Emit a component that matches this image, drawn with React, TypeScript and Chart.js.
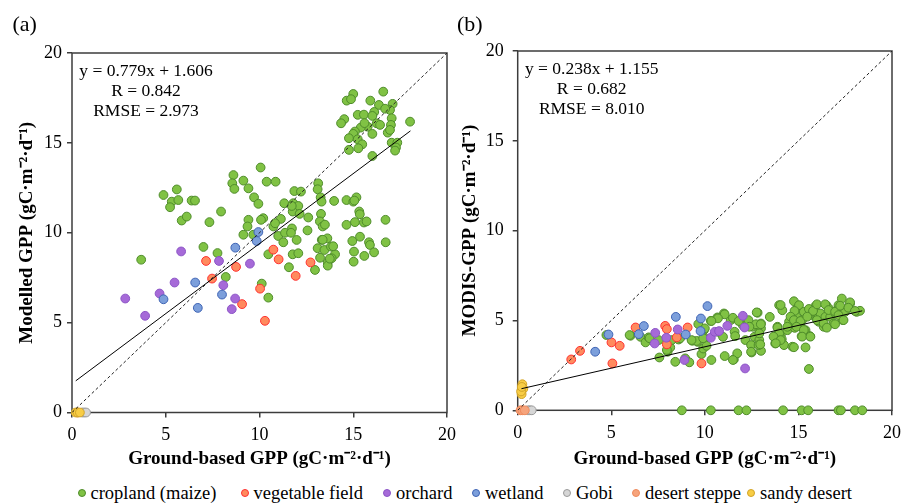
import React, { useEffect, useRef } from 'react';
import { Chart, registerables } from 'chart.js';

Chart.register(...registerables);

type Pt = [number, number];

const FONT = '"Liberation Serif", "Times New Roman", serif';

const SERIES_NAMES = ['cropland (maize)', 'vegetable field', 'orchard', 'wetland', 'Gobi', 'desert steppe', 'sandy desert'];
const SERIES_FILL = ['#80c244', '#ff8a5e', '#a66ad8', '#7c9fdb', '#d6d6d6', '#f6a47c', '#f8cd45'];
const SERIES_EDGE = ['#4f8c2b', '#ff3030', '#8c55c6', '#3e63b4', '#9a9a9a', '#ee8a5c', '#d2a428'];

const AXIS_MIN = 0;
const AXIS_MAX = 20;
const AXIS_STEP = 5;

// ---------- Panel (a): Modelled GPP vs ground-based GPP ----------
const modelCropland: Pt[] = [
  [15.0, 17.72], [14.65, 17.35], [14.88, 17.43], [16.6, 17.85], [15.91, 17.35], [16.37, 17.11], [17.1, 17.17],
  [16.96, 16.83], [16.12, 16.72], [15.24, 16.56], [15.57, 16.57], [16.02, 16.5], [14.52, 16.32], [14.35, 16.09],
  [17.05, 16.37], [17.01, 16.0], [18.03, 16.18], [16.25, 16.09], [16.43, 16.0], [15.77, 15.9], [15.4, 15.85],
  [15.09, 15.63], [15.0, 15.5], [16.84, 15.57], [16.96, 15.72], [16.02, 15.5], [14.77, 15.26], [15.24, 15.2],
  [15.48, 14.92], [15.27, 14.7], [14.77, 14.61], [17.05, 15.01], [17.35, 15.01], [17.28, 14.74], [17.23, 14.57],
  [16.02, 14.27], [15.6, 16.1], [16.7, 16.9],
  [4.88, 12.1], [5.59, 12.41], [5.32, 11.73], [5.67, 11.82], [5.23, 11.42], [5.85, 10.68], [6.12, 10.9],
  [6.38, 11.79], [6.56, 11.79], [7.33, 10.59], [7.95, 11.18], [8.61, 13.21], [8.55, 12.75], [8.66, 12.44],
  [9.14, 12.9], [9.41, 12.47], [9.71, 11.97], [9.94, 11.61], [10.06, 13.63], [10.38, 12.84], [10.86, 12.84],
  [9.41, 10.72], [9.36, 10.35], [10.2, 10.81], [10.08, 10.72], [10.74, 10.35], [11.14, 10.77], [11.32, 11.64],
  [11.86, 12.32], [12.21, 12.29], [11.8, 11.64], [12.07, 11.49], [11.77, 11.18], [12.14, 11.05], [12.6, 10.85],
  [13.13, 12.75], [13.1, 12.42], [13.26, 11.97], [13.31, 11.73], [13.98, 11.77], [13.28, 11.05], [13.22, 10.63],
  [13.37, 10.35], [12.56, 10.13], [11.73, 10.24], [14.64, 11.82], [15.0, 11.73], [15.17, 11.97], [15.32, 11.18],
  [15.35, 11.03], [14.64, 10.44], [15.09, 10.59], [15.57, 10.57], [15.71, 10.63], [16.72, 10.72], [9.14, 9.89],
  [9.67, 9.89], [11.72, 11.49], [15.06, 11.79],
  [13.49, 10.45], [10.83, 10.53], [11.0, 9.82], [11.36, 10.0], [11.68, 10.0], [11.27, 9.47], [11.98, 9.6],
  [13.32, 9.6], [13.62, 9.69], [13.1, 9.14], [13.46, 9.04], [13.81, 9.23], [14.03, 8.8], [13.85, 8.58],
  [13.23, 8.61], [13.64, 8.34], [13.64, 8.17], [12.96, 7.93], [11.57, 8.08], [11.77, 8.8], [12.07, 8.86],
  [10.47, 8.8], [14.95, 9.54], [15.36, 9.78], [15.84, 9.47], [15.89, 9.32], [16.73, 9.47], [15.04, 8.95],
  [15.59, 8.71], [16.11, 8.91], [15.02, 8.39], [10.47, 6.39], [3.69, 8.5], [7.01, 9.21], [7.76, 8.87],
  [8.2, 7.54], [10.12, 7.17], [13.75, 8.56], [13.93, 9.25], [13.37, 9.61],
];
const modelVegetable: Pt[] = [
  [7.15, 8.43], [7.47, 7.45], [8.75, 8.1], [9.07, 6.03], [10.03, 6.89], [10.29, 5.1], [10.74, 9.06],
  [11.02, 8.52], [11.93, 7.6], [12.72, 8.35],
];
const modelOrchard: Pt[] = [
  [2.84, 6.34], [3.9, 5.38], [4.67, 6.62], [5.47, 7.23], [5.82, 8.96], [7.84, 8.43], [8.07, 7.08],
  [8.7, 6.34], [8.52, 5.75], [9.49, 8.28],
];
const modelWetland: Pt[] = [
  [4.88, 6.3], [6.57, 7.23], [6.71, 5.82], [8.0, 6.56], [8.71, 9.17], [9.85, 9.54], [9.94, 10.04],
];
const modelGobi: Pt[] = [[0.55, 0], [0.65, 0], [0.75, 0]];
const modelSteppe: Pt[] = [[0.3, 0]];
const modelSandy: Pt[] = [[0.2, 0], [0.3, 0], [0.42, 0]];

const modelFit = { slope: 0.779, intercept: 1.606, from: 0.2, to: 18.05 };
const modelStats = ['y = 0.779x + 1.606', 'R = 0.842', 'RMSE = 2.973'];

// ---------- Panel (b): MODIS GPP vs ground-based GPP ----------
const modisCropland: Pt[] = [
  [6.03, 4.15], [6.56, 4.09], [6.83, 3.78], [7.0, 4.06], [7.57, 2.94], [7.53, 3.91], [8.01, 3.26], [8.06, 3.85],
  [8.15, 3.5], [8.42, 2.7], [8.6, 3.94], [8.95, 2.89], [9.17, 2.67], [9.33, 3.87], [9.61, 3.81], [9.65, 4.8],
  [9.82, 3.13], [9.91, 3.44], [10.09, 3.59], [9.95, 4.46], [9.96, 4.06], [10.35, 2.8], [10.32, 4.98],
  [10.67, 5.17], [10.71, 4.37], [11.02, 5.39], [11.06, 3.02], [10.97, 4.09], [11.38, 5.02], [11.55, 2.83],
  [11.59, 4.37], [11.62, 4.13], [11.73, 3.17], [12.03, 4.74], [12.17, 3.91], [12.29, 4.78], [12.33, 5.02],
  [12.47, 3.63], [12.65, 4.09], [12.56, 4.65], [12.82, 5.43], [12.91, 4.46], [12.91, 3.91], [13.0, 4.83],
  [13.0, 4.56], [12.5, 3.22], [13.0, 3.31], [12.87, 3.63], [13.47, 5.2], [13.88, 4.65], [13.79, 4.13],
  [13.76, 3.72], [13.97, 5.85], [14.14, 5.57], [14.06, 4.19], [14.11, 3.96], [14.23, 3.63], [14.41, 4.46],
  [14.5, 4.93], [14.76, 5.11], [14.68, 3.54], [14.76, 6.07], [14.85, 5.57], [14.8, 4.59], [15.03, 5.85],
  [14.9, 5.2], [15.11, 4.74], [15.17, 4.13], [15.2, 5.02], [15.29, 5.48], [15.38, 3.5], [15.38, 4.46],
  [15.56, 2.3], [15.61, 4.13], [15.64, 5.3], [15.82, 5.48], [15.91, 5.8], [16.0, 5.11], [16.08, 4.93],
  [16.17, 5.39], [16.35, 4.65], [16.44, 5.2], [16.49, 5.85], [16.62, 5.67], [16.7, 5.2], [16.88, 4.83],
  [16.97, 5.39], [17.05, 5.57], [17.14, 5.85], [17.32, 6.22], [17.37, 5.02], [17.49, 5.48], [17.76, 5.94],
  [18.11, 5.48], [18.29, 5.54],
  [11.06, 5.34], [10.7, 5.12], [10.35, 4.97], [11.5, 5.15], [11.81, 4.97], [12.77, 5.45], [12.73, 4.79],
  [12.38, 4.65], [9.56, 3.86], [9.29, 3.91], [9.91, 4.01], [10.0, 4.56], [8.68, 4.01], [8.23, 3.91],
  [7.05, 4.01], [7.97, 3.36], [11.5, 2.8], [12.47, 3.26],
  [14.05, 5.86], [14.79, 5.53], [15.56, 5.64], [15.78, 5.53], [15.99, 5.9], [16.43, 5.9], [16.61, 5.58],
  [16.96, 5.49], [17.23, 5.82], [17.76, 6.01], [17.67, 5.71], [18.02, 5.53], [14.58, 5.21], [14.76, 5.02],
  [15.11, 4.97], [15.47, 5.21], [15.99, 5.02], [16.35, 4.84], [16.52, 4.6], [16.96, 4.79], [17.14, 5.3],
  [17.41, 5.02], [13.88, 4.6], [14.41, 4.65], [14.9, 4.65], [15.29, 4.47], [15.2, 4.1], [15.64, 4.1],
  [13.97, 4.28], [13.67, 4.1], [14.05, 3.91], [13.79, 3.73], [14.76, 3.51], [12.99, 4.79], [12.91, 4.28],
  [12.96, 3.67], [4.74, 4.19], [5.98, 4.19],
  [8.77, 0], [10.32, 0], [11.8, 0], [12.22, 0], [14.18, 0], [15.17, 0], [15.52, 0], [17.14, 0], [17.27, 0],
  [18.02, 0], [18.41, 0],
];
const modisVegetable: Pt[] = [
  [2.86, 2.83], [3.33, 3.31], [5.01, 3.78], [5.06, 2.61], [5.45, 3.59], [6.3, 4.61], [7.88, 4.7],
  [7.97, 4.52], [7.97, 3.67], [8.5, 4.06], [9.08, 4.61], [9.82, 2.61],
];
const modisOrchard: Pt[] = [
  [7.35, 4.31], [7.32, 3.72], [7.94, 4.04], [8.55, 4.5], [8.91, 2.8], [10.32, 4.04], [10.53, 4.37],
  [10.76, 4.41], [11.2, 4.7], [12.03, 5.26], [12.12, 4.61], [12.15, 2.33],
];
const modisWetland: Pt[] = [
  [4.14, 3.26], [4.85, 4.22], [6.47, 4.24], [6.74, 4.69], [8.45, 5.2], [8.98, 4.22], [9.77, 4.41],
  [9.79, 5.11], [10.14, 5.8],
];
const modisGobi: Pt[] = [[0.55, 0], [0.65, 0], [0.75, 0]];
const modisSteppe: Pt[] = [[0.15, 0], [0.25, 0], [0.38, 0]];
const modisSandy: Pt[] = [[0.25, 1.45], [0.3, 1.2], [0.21, 0.9], [0.18, 1.05], [0.22, 1.3]];

const modisFit = { slope: 0.238, intercept: 1.155, from: 0.2, to: 18.41 };
const modisStats = ['y = 0.238x + 1.155', 'R = 0.682', 'RMSE = 8.010'];

const X_TITLE = 'Ground-based GPP (gC·m⁻²·d⁻¹)';
const Y_TITLE_A = 'Modelled GPP (gC·m⁻²·d⁻¹)';
const Y_TITLE_B = 'MODIS-GPP (gC·m⁻²·d⁻¹)';

// ---------- layout (pixels) ----------
const CANVAS_H = 470;
const PANEL_A = { tag: '(a)', canvasLeft: 0, canvasWidth: 470, plotLeft: 72, plotRight: 447, plotTop: 53, plotBottom: 412.5, yTitlePad: 15.6, yTickPad: 5, tagX: 12.5 };
const PANEL_B = { tag: '(b)', canvasLeft: 454, canvasWidth: 454, plotLeft: 63.7, plotRight: 441.7, plotTop: 51, plotBottom: 410.3, yTitlePad: 4.6, yTickPad: 9, tagX: 3 };
const LEGEND_X = [81.5, 244.5, 387, 476, 567, 636, 751];

type PanelLayout = typeof PANEL_A;

interface PanelProps {
  layout: PanelLayout;
  series: Pt[][];
  fit: { slope: number; intercept: number; from: number; to: number };
  stats: string[];
  yTitle: string;
}

function Panel({ layout, series, fit, stats, yTitle }: PanelProps) {
  const ref = useRef<HTMLCanvasElement | null>(null);

  useEffect(() => {
    const canvas = ref.current;
    if (!canvas) return;

    const pointSets = series.map((pts, i) => ({
      type: 'scatter' as const,
      label: SERIES_NAMES[i],
      data: pts.map(([x, y]) => ({ x, y })),
      backgroundColor: SERIES_FILL[i],
      borderColor: SERIES_EDGE[i],
      borderWidth: 1,
      pointRadius: 4.4,
      pointHoverRadius: 4.4,
      order: 10 - i,
      clip: false as const,
    }));

    const fitLine = {
      type: 'line' as const,
      label: 'fit',
      data: [fit.from, fit.to].map((x) => ({ x, y: fit.slope * x + fit.intercept })),
      borderColor: '#000',
      borderWidth: 1,
      pointRadius: 0,
      fill: false,
      showLine: true,
      order: 1,
    };
    const identityLine = {
      type: 'line' as const,
      label: '1:1',
      data: [AXIS_MIN, AXIS_MAX].map((v) => ({ x: v, y: v })),
      borderColor: '#222',
      borderWidth: 1,
      borderDash: [3, 2.5],
      pointRadius: 0,
      fill: false,
      showLine: true,
      order: 2,
    };

    const frameColor = '#3c3c3c';
    const tickFont = { family: FONT, size: 18 };
    const titleFont = { family: FONT, size: 19, weight: 'bold' as const };

    const framePlugin = {
      id: 'frame',
      beforeDatasetsDraw(chart: Chart) {
        const { ctx, chartArea: a } = chart;
        ctx.save();
        ctx.strokeStyle = frameColor;
        ctx.lineWidth = 1.5;
        ctx.strokeRect(a.left, a.top, a.right - a.left, a.bottom - a.top);
        ctx.restore();
      },
      afterDraw(chart: Chart) {
        const { ctx, chartArea: a } = chart;
        ctx.save();
        ctx.fillStyle = '#000';
        ctx.font = `17.5px ${FONT}`;
        ctx.textAlign = 'center';
        ctx.textBaseline = 'alphabetic';
        stats.forEach((t, i) => ctx.fillText(t, a.left + 74, a.top + 23 + i * 20));
        ctx.font = `22px ${FONT}`;
        ctx.textAlign = 'left';
        ctx.fillText(layout.tag, layout.tagX, 31);
        ctx.restore();
      },
    };

    const chart = new Chart(canvas, {
      type: 'scatter',
      data: { datasets: [...pointSets, fitLine, identityLine] as any },
      options: {
        animation: false,
        responsive: false,
        devicePixelRatio: 1,
        events: [],
        layout: {
          padding: {
            top: layout.plotTop,
            right: layout.canvasWidth - layout.plotRight,
            left: 0,
            bottom: 0,
          },
        },
        plugins: { legend: { display: false }, tooltip: { enabled: false } },
        scales: {
          x: {
            type: 'linear',
            min: AXIS_MIN,
            max: AXIS_MAX,
            ticks: { stepSize: AXIS_STEP, font: tickFont, color: '#000', padding: 7, maxRotation: 0, autoSkip: false },
            grid: { display: true, drawOnChartArea: false, drawTicks: true, tickLength: 5, color: frameColor, lineWidth: 1.5 },
            border: { display: false },
            title: { display: true, text: X_TITLE, font: titleFont, color: '#000', padding: { top: 0, bottom: 0 } },
            afterFit(scale: any) {
              scale.height = CANVAS_H - layout.plotBottom;
            },
          },
          y: {
            type: 'linear',
            min: AXIS_MIN,
            max: AXIS_MAX,
            ticks: { stepSize: AXIS_STEP, font: tickFont, color: '#000', padding: layout.yTickPad },
            grid: { display: true, drawOnChartArea: false, drawTicks: true, tickLength: 5, color: frameColor, lineWidth: 1.5 },
            border: { display: false },
            title: { display: true, text: yTitle, font: titleFont, color: '#000', padding: { top: layout.yTitlePad, bottom: 0 } },
            afterFit(scale: any) {
              scale.width = layout.plotLeft;
            },
          },
        },
      },
      plugins: [framePlugin],
    });

    return () => chart.destroy();
  }, []);

  return (
    <canvas
      ref={ref}
      width={layout.canvasWidth}
      height={CANVAS_H}
      style={{ position: 'absolute', left: layout.canvasLeft, top: 0, width: layout.canvasWidth, height: CANVAS_H }}
    />
  );
}

function Legend() {
  return (
    <div style={{ position: 'absolute', left: 0, top: 482, width: 908, height: 22, fontFamily: FONT, fontSize: 18.5, color: '#000' }}>
      {SERIES_NAMES.map((name, i) => (
        <div
          key={name}
          style={{ position: 'absolute', left: LEGEND_X[i] - 4, top: 0, height: 22, display: 'flex', alignItems: 'center', whiteSpace: 'nowrap' }}
        >
          <span
            style={{
              display: 'inline-block',
              width: 6,
              height: 6,
              borderRadius: '50%',
              background: SERIES_FILL[i],
              border: `1px solid ${SERIES_EDGE[i]}`,
              marginRight: 5,
            }}
          />
          <span>{name}</span>
        </div>
      ))}
    </div>
  );
}

export default function App() {
  return (
    <div style={{ position: 'absolute', left: 0, top: 0, width: 908, height: 504, background: '#fff', overflow: 'hidden' }}>
      <Panel
        layout={PANEL_A}
        series={[modelCropland, modelVegetable, modelOrchard, modelWetland, modelGobi, modelSteppe, modelSandy]}
        fit={modelFit}
        stats={modelStats}
        yTitle={Y_TITLE_A}
      />
      <Panel
        layout={PANEL_B}
        series={[modisCropland, modisVegetable, modisOrchard, modisWetland, modisGobi, modisSteppe, modisSandy]}
        fit={modisFit}
        stats={modisStats}
        yTitle={Y_TITLE_B}
      />
      <Legend />
    </div>
  );
}
